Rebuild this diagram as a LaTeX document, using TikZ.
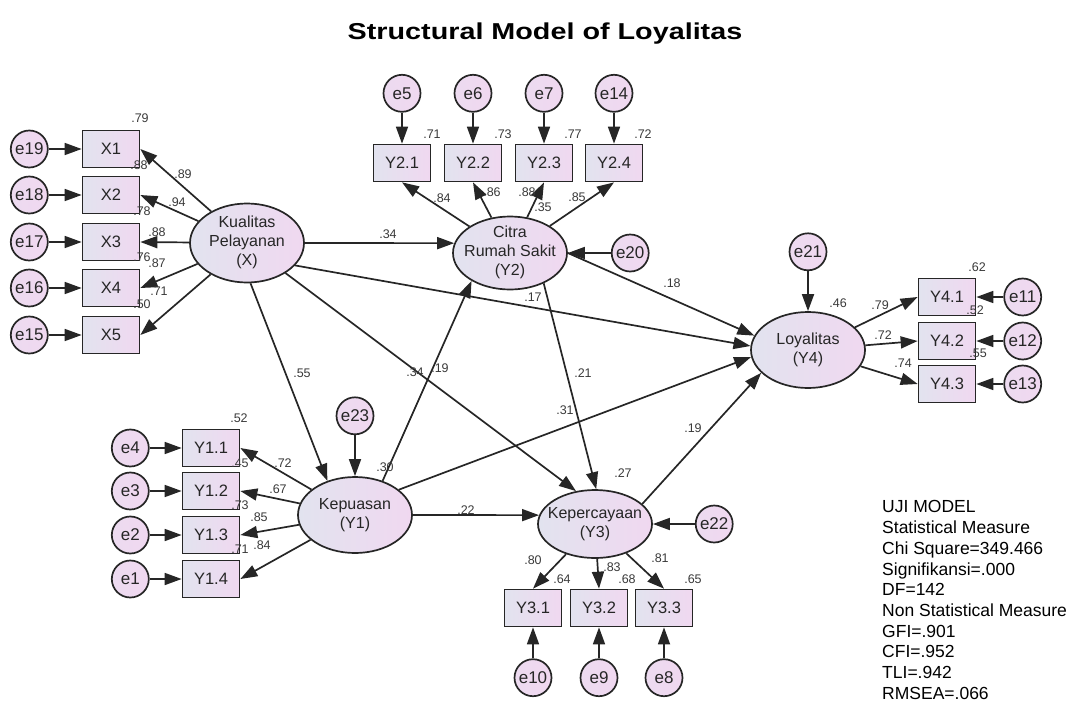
\documentclass[tikz,border=0pt]{standalone}
\usepackage{fontspec}
\setmainfont{Liberation Sans}
\usetikzlibrary{arrows.meta,positioning,shapes.geometric}
\definecolor{ink}{HTML}{262626}
\definecolor{numgray}{HTML}{3A3A3A}
\definecolor{lilac}{HTML}{F0D8F0}
\definecolor{haze}{HTML}{E2E3EF}
\newcommand{\latname}[1]{\makebox[0pt]{\begin{tabular}{@{}c@{}}#1\end{tabular}}}

\begin{document}
\begin{tikzpicture}[
  x=1pt,y=-1pt,
  obs/.style={draw=ink,line width=1.7pt,left color=haze,right color=lilac,minimum width=57pt,minimum height=37pt,inner sep=1pt,font=\fontsize{16.5}{19}\selectfont,text=ink},
  lat/.style={ellipse,draw=ink,line width=1.7pt,left color=haze,right color=lilac,minimum width=114pt,minimum height=76pt,inner xsep=0pt,inner ysep=-3pt,font=\fontsize{16}{19}\selectfont,text=ink},
  err/.style={circle,draw=ink,line width=1.7pt,left color=lilac!75!haze,right color=lilac,minimum size=37pt,inner sep=1pt,font=\fontsize{17}{20}\selectfont,text=ink},
  arrow/.style={-{Triangle[length=17pt,width=12pt]},line width=1.7pt,draw=ink},
  coef/.style={font=\fontsize{12.5}{14}\selectfont,text=numgray,inner sep=0pt}
]
\useasboundingbox (0,0) rectangle (1075,704);
\node[anchor=base,font=\fontsize{23}{27}\selectfont\bfseries] (title) at (545,39) {\scalebox{1.25}[1]{Structural Model of Loyalitas}};

\node[lat,minimum height=79pt] (KP) at (247,243) {\latname{Kualitas\\Pelayanan\\(X)}};
\node[lat,minimum height=73pt] (CRS) at (510,253) {\latname{Citra\\Rumah Sakit\\(Y2)}};
\node[lat] (LOY) at (808,350) {\latname{Loyalitas\\(Y4)}};
\node[lat] (KY1) at (355,515) {\latname{Kepuasan\\(Y1)}};
\node[lat,minimum height=68pt] (KC) at (595,524) {\latname{Kepercayaan\\(Y3)}};

\node[obs] (X1) at (111,149) {X1};
\node[obs] (X2) at (111,195) {X2};
\node[obs] (X3) at (111,242) {X3};
\node[obs] (X4) at (111,288) {X4};
\node[obs] (X5) at (111,335) {X5};
\node[err,left=33pt of X1] (e19) {e19};
\node[err,left=33pt of X2] (e18) {e18};
\node[err,left=33pt of X3] (e17) {e17};
\node[err,left=33pt of X4] (e16) {e16};
\node[err,left=33pt of X5] (e15) {e15};

\node[obs] (Y21) at (402,163) {Y2.1};
\node[obs] (Y22) at (473,163) {Y2.2};
\node[obs] (Y23) at (544,163) {Y2.3};
\node[obs] (Y24) at (614,163) {Y2.4};
\node[err,above=31pt of Y21] (e5) {e5};
\node[err,above=31pt of Y22] (e6) {e6};
\node[err,above=31pt of Y23] (e7) {e7};
\node[err,above=31pt of Y24] (e14) {e14};

\node[obs] (Y41) at (947,297) {Y4.1};
\node[obs] (Y42) at (947,341) {Y4.2};
\node[obs] (Y43) at (947,384) {Y4.3};
\node[err,right=27pt of Y41] (e11) {e11};
\node[err,right=27pt of Y42] (e12) {e12};
\node[err,right=27pt of Y43] (e13) {e13};

\node[obs] (Y11) at (211,448) {Y1.1};
\node[obs] (Y12) at (211,491) {Y1.2};
\node[obs] (Y13) at (211,535) {Y1.3};
\node[obs] (Y14) at (211,579) {Y1.4};
\node[err,left=32pt of Y11] (e4) {e4};
\node[err,left=32pt of Y12] (e3) {e3};
\node[err,left=32pt of Y13] (e2) {e2};
\node[err,left=32pt of Y14] (e1) {e1};

\node[obs] (Y31) at (533,608) {Y3.1};
\node[obs] (Y32) at (599,608) {Y3.2};
\node[obs] (Y33) at (664,608) {Y3.3};
\node[err,below=31pt of Y31] (e10) {e10};
\node[err,below=31pt of Y32] (e9) {e9};
\node[err,below=31pt of Y33] (e8) {e8};

\node[err,right=43pt of CRS] (e20) {e20};
\node[err,above=40pt of LOY] (e21) {e21};
\node[err,right=42pt of KC] (e22) {e22};
\node[err,above=41pt of KY1] (e23) {e23};

\draw[arrow] (e19) -- (X1);
\draw[arrow] (e18) -- (X2);
\draw[arrow] (e17) -- (X3);
\draw[arrow] (e16) -- (X4);
\draw[arrow] (e15) -- (X5);
\draw[arrow] (KP) -- (X1.east);
\draw[arrow] (KP) -- (X2.east);
\draw[arrow] (KP) -- (X3.east);
\draw[arrow] (KP) -- (X4.east);
\draw[arrow] (KP) -- (X5.east);

\draw[arrow] (e5) -- (Y21);
\draw[arrow] (e6) -- (Y22);
\draw[arrow] (e7) -- (Y23);
\draw[arrow] (e14) -- (Y24);
\draw[arrow] (CRS) -- (Y21.south);
\draw[arrow] (CRS) -- (Y22.south);
\draw[arrow] (CRS) -- (Y23.south);
\draw[arrow] (CRS) -- (Y24.south);

\draw[arrow] (e11) -- (Y41);
\draw[arrow] (e12) -- (Y42);
\draw[arrow] (e13) -- (Y43);
\draw[arrow] (LOY) -- (Y41.west);
\draw[arrow] (LOY) -- (Y42.west);
\draw[arrow] (LOY) -- (Y43.west);

\draw[arrow] (e4) -- (Y11);
\draw[arrow] (e3) -- (Y12);
\draw[arrow] (e2) -- (Y13);
\draw[arrow] (e1) -- (Y14);
\draw[arrow] (KY1) -- (Y11.east);
\draw[arrow] (KY1) -- (Y12.east);
\draw[arrow] (KY1) -- (Y13.east);
\draw[arrow] (KY1) -- (Y14.east);

\draw[arrow] (e10) -- (Y31);
\draw[arrow] (e9) -- (Y32);
\draw[arrow] (e8) -- (Y33);
\draw[arrow] (KC) -- (Y31.north);
\draw[arrow] (KC) -- (Y32.north);
\draw[arrow] (KC) -- (Y33.north);

\draw[arrow] (KP.east) -- (CRS.170);
\draw[arrow] (KP.-25) -- (LOY.176);
\draw[arrow] (KP.-85) -- (KY1.129);
\draw[arrow] (KP.-38) -- (KC.120);
\draw[arrow] (KY1.51) -- (CRS.216);
\draw[arrow] (KY1.30) -- (LOY.187);
\draw[arrow] (KY1.east) -- (KC.171);
\draw[arrow] (CRS.-42) -- (KC.88);
\draw[arrow] (CRS.east) -- (LOY.165);
\draw[arrow] (KC.23) -- (LOY.206);
\draw[arrow] (e20) -- (CRS.east);
\draw[arrow] (e21) -- (LOY);
\draw[arrow] (e22) -- (KC);
\draw[arrow] (e23) -- (KY1);

\node[coef] (rX1) at (140,118) {.79};
\node[coef] (rX2) at (139,165) {.88};
\node[coef] (rX3) at (142,211) {.78};
\node[coef] (rX4) at (142,257) {.76};
\node[coef] (rX5) at (142,304) {.50};
\node[coef] (lX1) at (183,174) {.89};
\node[coef] (lX2) at (177,202) {.94};
\node[coef] (lX3) at (157,232) {.88};
\node[coef] (lX4) at (157,263) {.87};
\node[coef] (lX5) at (159,291) {.71};

\node[coef] (rY21) at (432,134) {.71};
\node[coef] (rY22) at (503,134) {.73};
\node[coef] (rY23) at (573,134) {.77};
\node[coef] (rY24) at (643,134) {.72};
\node[coef] (lY21) at (442,198) {.84};
\node[coef] (lY22) at (492,192) {.86};
\node[coef] (lY23) at (527,192) {.88};
\node[coef] (lY24) at (577,197) {.85};

\node[coef] (rY41) at (977,267) {.62};
\node[coef] (rY42) at (975,310) {.52};
\node[coef] (rY43) at (978,353) {.55};
\node[coef] (lY41) at (880,305) {.79};
\node[coef] (lY42) at (883,335) {.72};
\node[coef] (lY43) at (903,363) {.74};

\node[coef] (rY11) at (239,418) {.52};
\node[coef] (rY12) at (240,463) {.45};
\node[coef] (rY13) at (240,505) {.73};
\node[coef] (rY14) at (240,549) {.71};
\node[coef] (lY11) at (283,463) {.72};
\node[coef] (lY12) at (278,489) {.67};
\node[coef] (lY13) at (259,517) {.85};
\node[coef] (lY14) at (262,545) {.84};

\node[coef] (rY31) at (562,579) {.64};
\node[coef] (rY32) at (627,579) {.68};
\node[coef] (rY33) at (693,579) {.65};
\node[coef] (lY31) at (533,560) {.80};
\node[coef] (lY32) at (612,567) {.83};
\node[coef] (lY33) at (660,558) {.81};

\node[coef] (rCRS) at (543,207) {.35};
\node[coef] (rKY1) at (385,467) {.30};
\node[coef] (rKC) at (623,473) {.27};
\node[coef] (rLOY) at (838,303) {.46};

\node[coef] (bKPCRS) at (388,234) {.34};
\node[coef] (bKPLOY) at (533,297) {.17};
\node[coef] (bCRSLOY) at (672,283) {.18};
\node[coef] (bKPKY1) at (302,373) {.55};
\node[coef] (bKPKC) at (415,372) {.34};
\node[coef] (bKY1CRS) at (440,368) {.19};
\node[coef] (bCRSKC) at (583,373) {.21};
\node[coef] (bKY1LOY) at (565,410) {.31};
\node[coef] (bKY1KC) at (466,510) {.22};
\node[coef] (bKCLOY) at (693,428) {.19};

\node[anchor=north west,align=left,inner sep=0pt,font=\fontsize{17.5}{20.7}\selectfont] (fit) at (882,500.5) {UJI MODEL\\Statistical Measure\\Chi Square=349.466\\Signifikansi=.000\\DF=142\\Non Statistical Measure\\GFI=.901\\CFI=.952\\TLI=.942\\RMSEA=.066};
\end{tikzpicture}
\end{document}
